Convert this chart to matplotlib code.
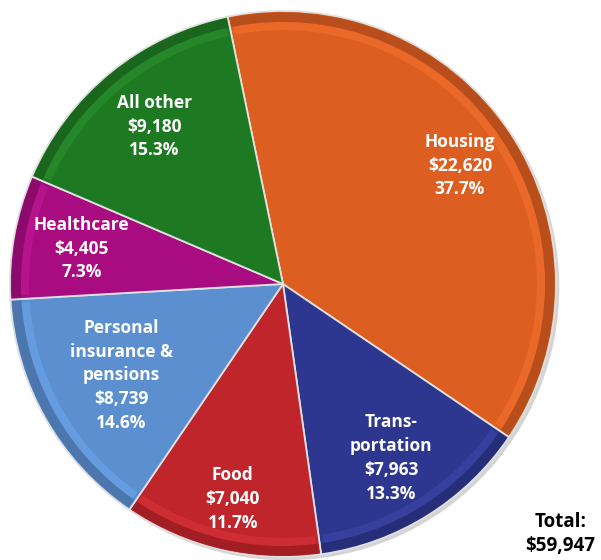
import matplotlib.pyplot as plt
from matplotlib.patches import Wedge
from matplotlib.colors import to_rgb
import numpy as np

# spending categories, clockwise from the top
categories = ["Housing", "Trans-\nportation", "Food", "Personal\ninsurance &\npensions",
              "Healthcare", "All other"]
amounts = [22620, 7963, 7040, 8739, 4405, 9180]
shares = ["37.7%", "13.3%", "11.7%", "14.6%", "7.3%", "15.3%"]
total = "$59,947"

colors = ["#DC5E20", "#2E3790", "#C0252B", "#5B8FD0", "#A80C80", "#1E7A22"]
label_dist = [0.78, 0.75, 0.81, 0.68, 0.75, 0.745]

plt.rcParams['font.family'] = ['Open Sans', 'DejaVu Sans']

fig = plt.figure(figsize=(6.01, 5.60), dpi=100)
ax = fig.add_axes([0.0166, 0.0054, 0.9085, 0.975])

# soft shadow under the pie
ax.pie([1], colors=["#d4d4d4"], radius=1.0, center=(0.012, -0.012),
       wedgeprops=dict(linewidth=0))
wedges, _ = ax.pie(amounts, colors=colors, startangle=101.7, counterclock=False,
                   radius=1, wedgeprops=dict(edgecolor="#e0e0e0", linewidth=1.3))

# bevel hint: lighter band near the edge, darker rim outside it
for w, c in zip(wedges, colors):
    rgb = np.array(to_rgb(c))
    ax.add_patch(Wedge((0, 0), 0.96, w.theta1 + 0.8, w.theta2 - 0.8, width=0.03,
                       facecolor=np.minimum(rgb * 1.1 + 0.06, 1), linewidth=0, alpha=0.45))
    ax.add_patch(Wedge((0, 0), 0.995, w.theta1 + 0.3, w.theta2 - 0.3, width=0.035,
                       facecolor=rgb * 0.8, linewidth=0, alpha=0.8))

ax.set_xlim(-1, 1)
ax.set_ylim(-1, 1)
ax.set_aspect("equal")
ax.axis("off")

# labels at each wedge's mid angle
for w, cat, amt, pct, d in zip(wedges, categories, amounts, shares, label_dist):
    mid = np.deg2rad((w.theta1 + w.theta2) / 2)
    ax.text(d * np.cos(mid), d * np.sin(mid), f"{cat}\n${amt:,}\n{pct}",
            ha="center", va="center", color="white", fontsize=12.5,
            fontweight="bold", linespacing=1.42)

fig.text(0.932, 0.046, f"Total:\n{total}", ha="center", va="center",
         fontsize=13.5, fontweight="bold", color="black", linespacing=1.25)

fig.savefig("out.png", dpi=100)
